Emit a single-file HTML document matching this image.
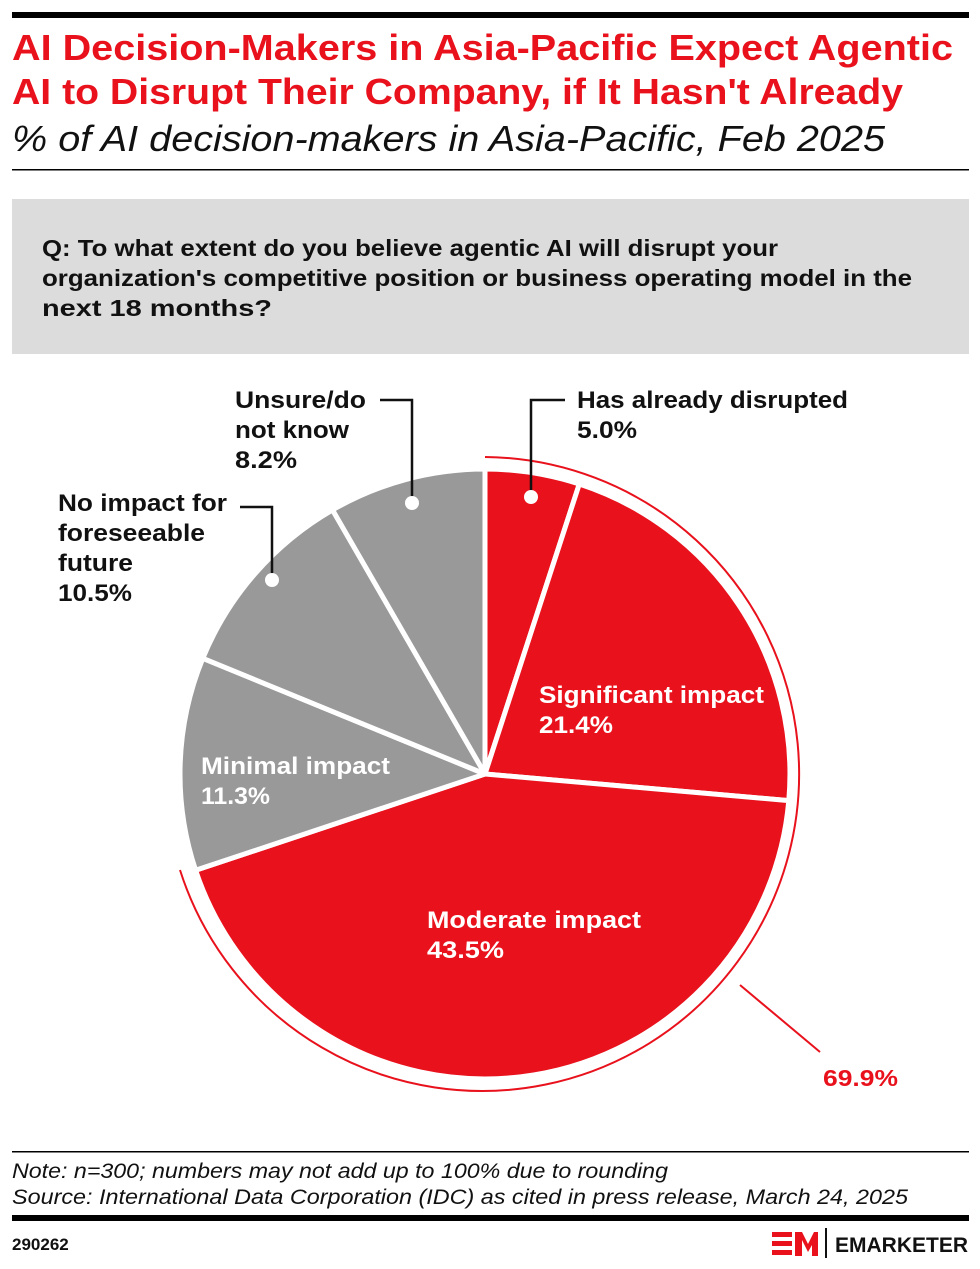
<!DOCTYPE html>
<html><head><meta charset="utf-8"><style>
body{margin:0;background:#fff;font-family:"Liberation Sans",sans-serif;}
.w{position:relative;width:980px;height:1269px;overflow:hidden;}
</style></head><body><div class="w">
<svg width="980" height="1269" viewBox="0 0 980 1269" xmlns="http://www.w3.org/2000/svg" font-family="Liberation Sans, sans-serif">
<rect x="12" y="12" width="957" height="6" fill="#000"/>
<text x="12" y="60" font-size="36" font-weight="bold" fill="#e8111c" textLength="941" lengthAdjust="spacingAndGlyphs">AI Decision-Makers in Asia-Pacific Expect Agentic</text>
<text x="12" y="104" font-size="36" font-weight="bold" fill="#e8111c" textLength="891" lengthAdjust="spacingAndGlyphs">AI to Disrupt Their Company, if It Hasn't Already</text>
<text x="12" y="151" font-size="36" font-style="italic" fill="#111" textLength="873" lengthAdjust="spacingAndGlyphs">% of AI decision-makers in Asia-Pacific, Feb 2025</text>
<rect x="12" y="169" width="957" height="1.5" fill="#000"/>
<rect x="12" y="199" width="957" height="155" fill="#dcdcdc"/>
<g font-size="23" font-weight="bold" fill="#111">
<text x="42" y="256" textLength="736" lengthAdjust="spacingAndGlyphs">Q: To what extent do you believe agentic AI will disrupt your</text>
<text x="42" y="286" textLength="870" lengthAdjust="spacingAndGlyphs">organization's competitive position or business operating model in the</text>
<text x="42" y="316" textLength="230" lengthAdjust="spacingAndGlyphs">next 18 months?</text>
</g>
<g stroke="#fff" stroke-width="5" stroke-linejoin="round">
<path d="M485,774 L485,469 A305,305 0 0 1 579.3,484 Z" fill="#e8111c"/>
<path d="M485,774 L579.3,484 A305,305 0 0 1 788.8,800.6 Z" fill="#e8111c"/>
<path d="M485,774 L788.8,800.6 A305,305 0 0 1 195.6,870.3 Z" fill="#e8111c"/>
<path d="M485,774 L195.6,870.3 A305,305 0 0 1 202.8,658.3 Z" fill="#999"/>
<path d="M485,774 L202.8,658.3 A305,305 0 0 1 332.5,509.9 Z" fill="#999"/>
<path d="M485,774 L332.5,509.9 A305,305 0 0 1 485,469 Z" fill="#999"/>
</g>
<path d="M485,457 A317,317 0 1 1 180,870" fill="none" stroke="#e8111c" stroke-width="2"/>
<line x1="740" y1="985" x2="820" y2="1052" stroke="#e8111c" stroke-width="2"/>
<text x="823" y="1086" font-size="23" font-weight="bold" fill="#e8111c" textLength="75" lengthAdjust="spacingAndGlyphs">69.9%</text>
<g stroke="#111" stroke-width="2.5" fill="none">
<polyline points="531,497 531,400 565,400"/>
<polyline points="412,503 412,400 380,400"/>
<polyline points="272,580 272,507 240,507"/>
</g>
<g fill="#fff"><circle cx="531" cy="497" r="7"/><circle cx="412" cy="503" r="7"/><circle cx="272" cy="580" r="7"/></g>
<g font-size="24" font-weight="bold" fill="#111">
<text x="577" y="408" textLength="271" lengthAdjust="spacingAndGlyphs">Has already disrupted</text><text x="577" y="438" textLength="60" lengthAdjust="spacingAndGlyphs">5.0%</text>
<text x="235" y="408" textLength="131" lengthAdjust="spacingAndGlyphs">Unsure/do</text><text x="235" y="438" textLength="114" lengthAdjust="spacingAndGlyphs">not know</text><text x="235" y="468" textLength="62" lengthAdjust="spacingAndGlyphs">8.2%</text>
<text x="58" y="511" textLength="169" lengthAdjust="spacingAndGlyphs">No impact for</text><text x="58" y="541" textLength="147" lengthAdjust="spacingAndGlyphs">foreseeable</text><text x="58" y="571" textLength="75" lengthAdjust="spacingAndGlyphs">future</text><text x="58" y="601" textLength="74" lengthAdjust="spacingAndGlyphs">10.5%</text>
</g>
<g font-size="24" font-weight="bold" fill="#fff">
<text x="539" y="703" textLength="225" lengthAdjust="spacingAndGlyphs">Significant impact</text><text x="539" y="733" textLength="74" lengthAdjust="spacingAndGlyphs">21.4%</text>
<text x="201" y="774" textLength="189" lengthAdjust="spacingAndGlyphs">Minimal impact</text><text x="201" y="804" textLength="69" lengthAdjust="spacingAndGlyphs">11.3%</text>
<text x="427" y="928" textLength="214" lengthAdjust="spacingAndGlyphs">Moderate impact</text><text x="427" y="958" textLength="77" lengthAdjust="spacingAndGlyphs">43.5%</text>
</g>
<rect x="12" y="1151" width="957" height="1.5" fill="#000"/>
<g font-size="21" font-style="italic" fill="#111">
<text x="12" y="1178" textLength="656" lengthAdjust="spacingAndGlyphs">Note: n=300; numbers may not add up to 100% due to rounding</text>
<text x="12" y="1204" textLength="896" lengthAdjust="spacingAndGlyphs">Source: International Data Corporation (IDC) as cited in press release, March 24, 2025</text>
</g>
<rect x="12" y="1215" width="957" height="6" fill="#000"/>
<text x="12" y="1250" font-size="17" font-weight="bold" fill="#111">290262</text>
<g fill="#e8111c">
<rect x="772" y="1232" width="20" height="5"/><rect x="772" y="1241" width="20" height="5"/><rect x="772" y="1250" width="20" height="5"/>
<path d="M795,1232 L802,1232 L808,1244 L814,1232 L818,1232 L818,1256 L812,1256 L812,1245 L808,1252 L802,1240 L802,1256 L795,1256 Z"/>
</g>
<rect x="825" y="1228" width="2" height="30" fill="#111"/>
<text x="835" y="1252" font-size="21" font-weight="bold" fill="#111" textLength="133" lengthAdjust="spacingAndGlyphs">EMARKETER</text>
</svg>
</div></body></html>
